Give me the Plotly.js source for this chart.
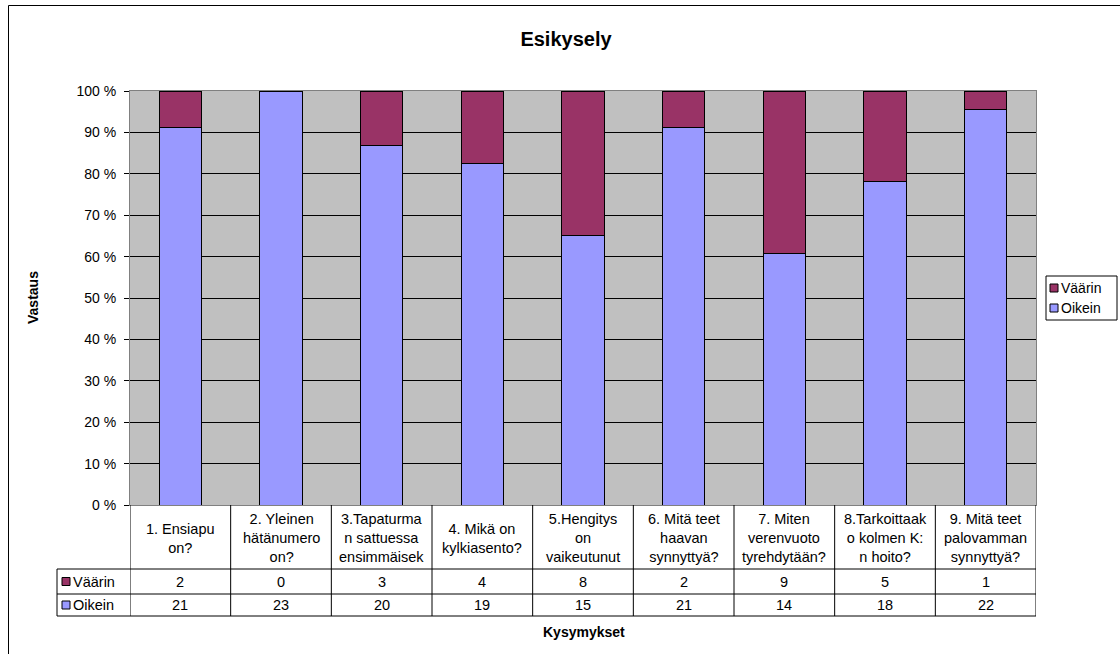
<!DOCTYPE html>
<html>
<head>
<meta charset="utf-8">
<script src="https://cdn.plot.ly/plotly-3.0.1.min.js"></script>
<style>
  html, body { margin: 0; padding: 0; background: #fff; }
  #chart { width: 1120px; height: 654px; }
</style>
</head>
<body>
<div id="chart"></div>
<script>
// ---- Data ----
const categories = [
  "1. Ensiapu<br>on?",
  "2. Yleinen<br>hätänumero<br>on?",
  "3.Tapaturma<br>n sattuessa<br>ensimmäisek",
  "4. Mikä on<br>kylkiasento?",
  "5.Hengitys<br>on<br>vaikeutunut",
  "6. Mitä teet<br>haavan<br>synnyttyä?",
  "7. Miten<br>verenvuoto<br>tyrehdytään?",
  "8.Tarkoittaak<br>o kolmen K:<br>n hoito?",
  "9. Mitä teet<br>palovamman<br>synnyttyä?"
];
const vaarin = [2, 0, 3, 4, 8, 2, 9, 5, 1];
const oikein = [21, 23, 20, 19, 15, 21, 14, 18, 22];
const seriesNames = ["Väärin", "Oikein"];
const chartTitle = "Esikysely";
const yTitle = "Vastaus";
const xTitle = "Kysymykset";

// ---- Layout geometry (pixels) ----
const W = 1120, H = 654;
const L = 130, R = 1036, T = 91, B = 505;
const PW = R - L, PH = B - T;
const px2x = X => (X - L) / PW;
const px2y = Y => (B - Y) / PH;

const tableLeft = 57;
const headerBottom = 569;
const rowMid = 594;
const tableBottom = 616;

const colV = "#993366", colO = "#9999FF";
const font = "Liberation Sans, Arial, sans-serif";
const FS = 14;
const TFS = 14.5;

const idx = categories.map((_, i) => i);

const traces = [
  { type: "bar", name: seriesNames[1], x: idx, y: oikein,
    marker: { color: colO, line: { color: "#000", width: 1 } }, hoverinfo: "skip" },
  { type: "bar", name: seriesNames[0], x: idx, y: vaarin,
    marker: { color: colV, line: { color: "#000", width: 1 } }, hoverinfo: "skip" }
];

const shapes = [];
const annotations = [];
const line = { color: "#000", width: 1 };

// outer chart border
shapes.push({ type: "rect", xref: "paper", yref: "paper",
  x0: px2x(8.5), x1: px2x(1140), y0: px2y(680), y1: px2y(5.5),
  line: { color: "#000", width: 1 }, fillcolor: "rgba(0,0,0,0)", layer: "below" });

// table vertical lines at category boundaries
for (let i = 0; i <= categories.length; i++) {
  shapes.push({ type: "line", xref: "x", yref: "paper",
    x0: i - 0.5, x1: i - 0.5, y0: 0, y1: px2y(tableBottom), line });
}
// table left vertical (legend column)
shapes.push({ type: "line", xref: "paper", yref: "paper",
  x0: px2x(tableLeft), x1: px2x(tableLeft), y0: px2y(headerBottom), y1: px2y(tableBottom), line });
// horizontal lines
[headerBottom, rowMid, tableBottom].forEach(Y => {
  shapes.push({ type: "line", xref: "paper", yref: "paper",
    x0: px2x(tableLeft), x1: px2x(R), y0: px2y(Y), y1: px2y(Y), line });
});

// category header labels
categories.forEach((c, i) => {
  annotations.push({ x: i, y: px2y((B + headerBottom) / 2 + 1), xref: "x", yref: "paper",
    text: c, showarrow: false, xanchor: "center", yanchor: "middle", align: "center",
    font: { family: font, size: TFS, color: "#000" } });
});
// row values
const rows = [[vaarin, (headerBottom + rowMid) / 2, colV, seriesNames[0]],
              [oikein, (rowMid + tableBottom) / 2, colO, seriesNames[1]]];
rows.forEach(([vals, yMid, col, name]) => {
  vals.forEach((v, i) => {
    annotations.push({ x: i, y: px2y(yMid), xref: "x", yref: "paper",
      text: String(v), showarrow: false, xanchor: "center", yanchor: "middle",
      font: { family: font, size: TFS, color: "#000" } });
  });
  // key square
  shapes.push({ type: "rect", xref: "paper", yref: "paper",
    x0: px2x(tableLeft + 5), x1: px2x(tableLeft + 13),
    y0: px2y(yMid + 4), y1: px2y(yMid - 4),
    fillcolor: col, line: { color: "#000", width: 1 } });
  annotations.push({ x: px2x(tableLeft + 14), y: px2y(yMid), xref: "paper", yref: "paper",
    text: name, showarrow: false, xanchor: "left", yanchor: "middle",
    font: { family: font, size: TFS, color: "#000" } });
});

// legend (drawn manually so the plot area is not resized)
const legL = 1046, legR = 1117, legT = 276, legB = 320;
shapes.push({ type: "rect", xref: "paper", yref: "paper",
  x0: px2x(legL), x1: px2x(legR), y0: px2y(legB), y1: px2y(legT),
  fillcolor: "#fff", line: { color: "#000", width: 1 } });
[[seriesNames[0], colV, 288], [seriesNames[1], colO, 308]].forEach(([name, col, yMid]) => {
  shapes.push({ type: "rect", xref: "paper", yref: "paper",
    x0: px2x(legL + 4), x1: px2x(legL + 12), y0: px2y(yMid + 4), y1: px2y(yMid - 4),
    fillcolor: col, line: { color: "#000", width: 1 } });
  annotations.push({ x: px2x(legL + 13), y: px2y(yMid), xref: "paper", yref: "paper",
    text: name, showarrow: false, xanchor: "left", yanchor: "middle",
    font: { family: font, size: FS, color: "#000" } });
});

// axis titles
annotations.push({ x: px2x(584), y: px2y(632), xref: "paper", yref: "paper",
  text: "<b>" + xTitle + "</b>", showarrow: false, xanchor: "center", yanchor: "middle",
  font: { family: font, size: 14, color: "#000" } });
annotations.push({ x: px2x(33), y: px2y(298), xref: "paper", yref: "paper",
  text: "<b>" + yTitle + "</b>", showarrow: false, textangle: -90,
  xanchor: "center", yanchor: "middle",
  font: { family: font, size: 14, color: "#000" } });

const layout = {
  width: W, height: H,
  margin: { l: L, r: W - R, t: T, b: H - B, pad: 0 },
  paper_bgcolor: "#fff",
  plot_bgcolor: "#C0C0C0",
  font: { family: font, size: FS, color: "#000" },
  title: { text: "<b>" + chartTitle + "</b>", x: px2x(566), xref: "paper",
    y: 1 - 39 / H, yref: "container", xanchor: "center", yanchor: "middle",
    font: { family: font, size: 20, color: "#000" } },
  barmode: "stack",
  barnorm: "percent",
  bargap: 0.58,
  showlegend: false,
  xaxis: {
    type: "linear", range: [-0.5, categories.length - 0.5],
    showticklabels: false, ticks: "", showgrid: false, zeroline: false,
    showline: true, linecolor: "#808080", linewidth: 1, mirror: true, fixedrange: true
  },
  yaxis: {
    range: [0, 100], dtick: 10, tick0: 0, ticksuffix: " %",
    showgrid: true, gridcolor: "#000", gridwidth: 1, zeroline: false,
    ticks: "outside", ticklen: 5, tickcolor: "#000", ticklabelstandoff: 5,
    showline: true, linecolor: "#808080", linewidth: 1, mirror: true,
    tickfont: { family: font, size: FS, color: "#000" }, fixedrange: true
  },
  shapes, annotations
};

Plotly.newPlot("chart", traces, layout, { displayModeBar: false, staticPlot: true });
</script>
</body>
</html>
